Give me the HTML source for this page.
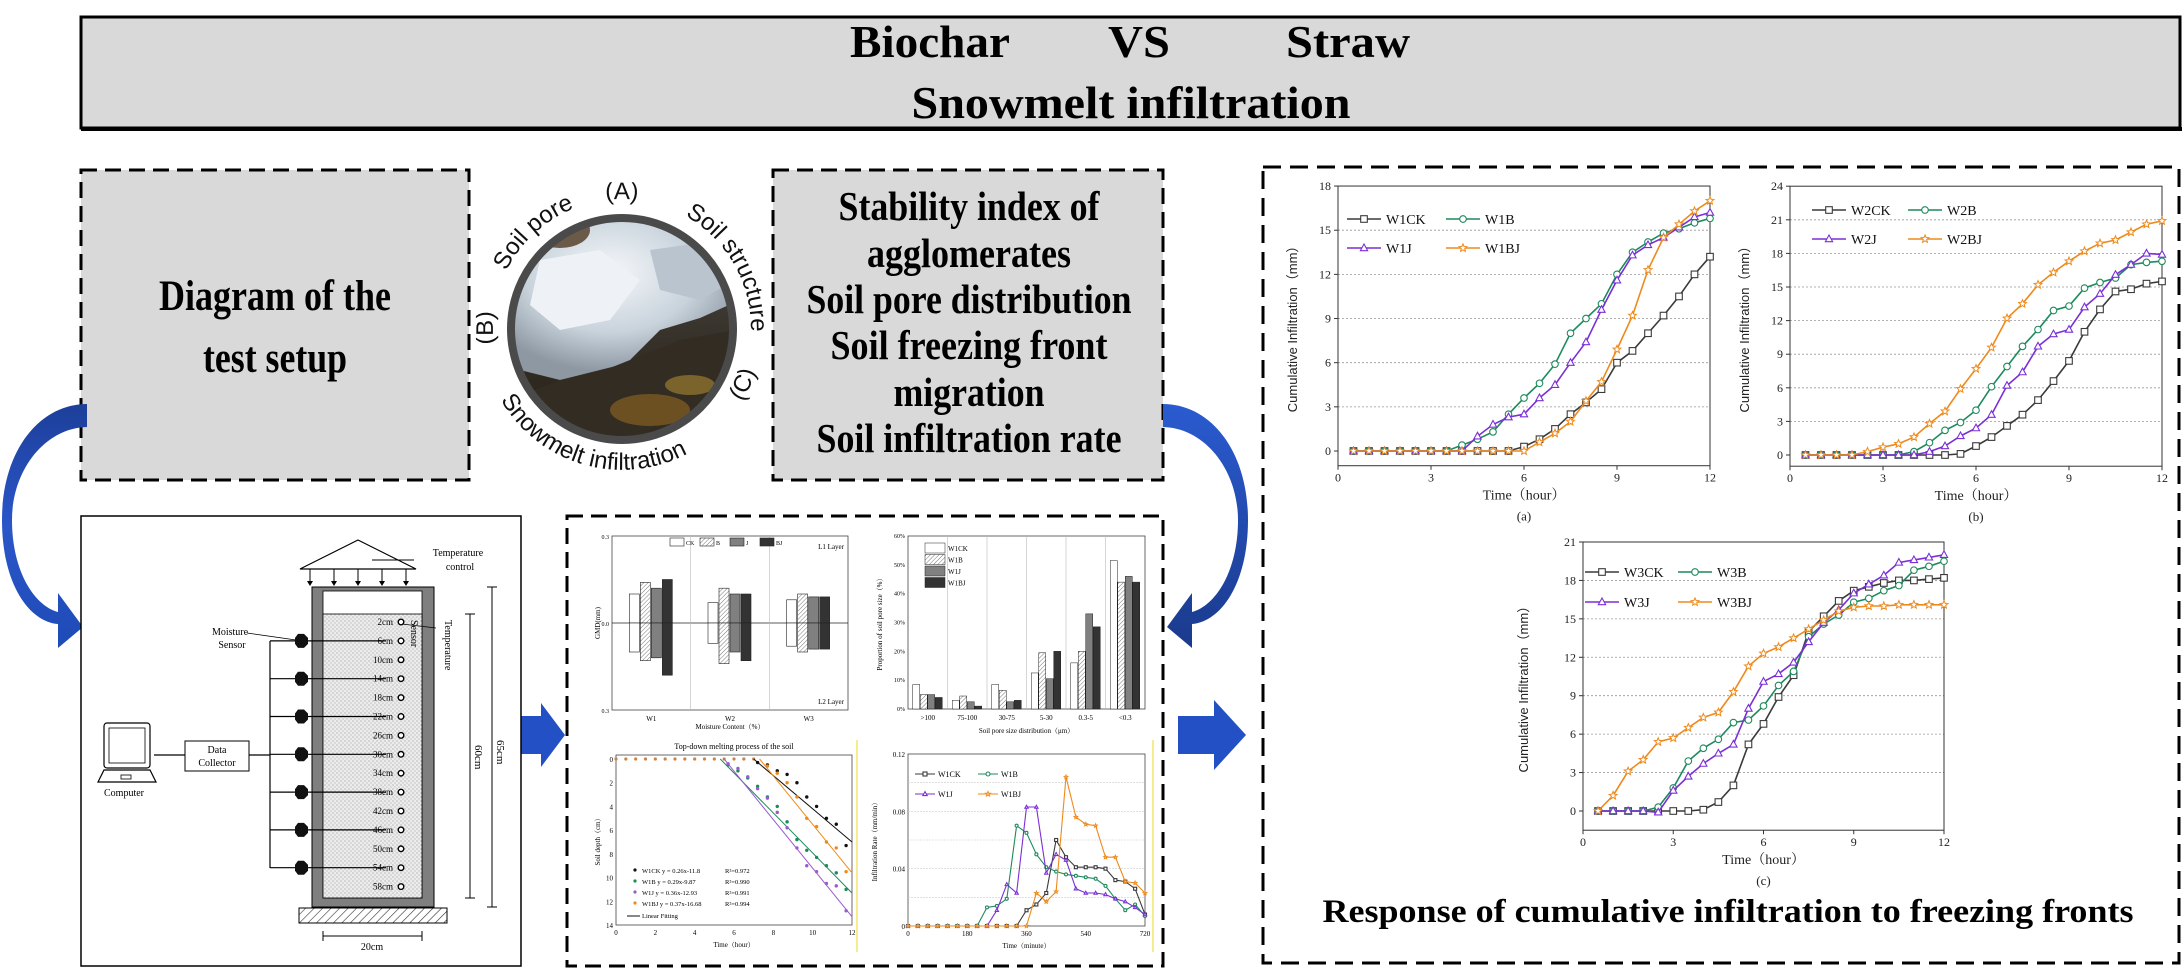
<!DOCTYPE html>
<html><head><meta charset="utf-8"><title>Biochar VS Straw - Snowmelt infiltration</title>
<style>
html,body{margin:0;padding:0;background:#fff;}
svg{display:block;}
.serif{font-family:"Liberation Serif","DejaVu Serif",serif;}
.sans{font-family:"Liberation Sans","DejaVu Sans",sans-serif;}
</style></head>
<body>
<svg id="root" xmlns="http://www.w3.org/2000/svg" width="2184" height="968" viewBox="0 0 2184 968">
<defs>
  <linearGradient id="blueGrad" x1="0" y1="0" x2="0" y2="1">
    <stop offset="0" stop-color="#1d3f9a"/><stop offset="0.5" stop-color="#2a56c8"/><stop offset="1" stop-color="#1f4bb8"/>
  </linearGradient>
  <linearGradient id="blueGradR" x1="0" y1="0" x2="0" y2="1">
    <stop offset="0" stop-color="#2a5bd0"/><stop offset="1" stop-color="#1a3a8c"/>
  </linearGradient>
  <pattern id="dots" width="4" height="4" patternUnits="userSpaceOnUse">
    <rect width="4" height="4" fill="#ececec"/><circle cx="1" cy="1" r="0.6" fill="#999"/><circle cx="3" cy="3" r="0.6" fill="#aaa"/>
  </pattern>
  <pattern id="hatch" width="6" height="6" patternUnits="userSpaceOnUse" patternTransform="rotate(45)">
    <rect width="6" height="6" fill="#fff"/><line x1="0" y1="0" x2="0" y2="6" stroke="#333" stroke-width="1.2"/>
  </pattern>
  <pattern id="hatchSmall" width="3" height="3" patternUnits="userSpaceOnUse" patternTransform="rotate(45)">
    <rect width="3" height="3" fill="#fff"/><line x1="0" y1="0" x2="0" y2="3" stroke="#555" stroke-width="0.8"/>
  </pattern>
  <clipPath id="photoClip"><circle cx="622" cy="329" r="108"/></clipPath>
  <radialGradient id="iceGrad" cx="0.45" cy="0.35" r="0.6">
    <stop offset="0" stop-color="#f4f7fa"/><stop offset="0.6" stop-color="#c9d3dc"/><stop offset="1" stop-color="#8d98a3"/>
  </radialGradient>
  <linearGradient id="groundGrad" x1="0" y1="0" x2="0" y2="1">
    <stop offset="0" stop-color="#4d4a45"/><stop offset="1" stop-color="#231c12"/>
  </linearGradient>
  <path id="arcTop" d="M 497.3 361.4 A 129 129 0 1 1 746.6 361.4" fill="none"/>
  <path id="arcBot" d="M 484.1 305.7 A 140 140 0 1 0 759.9 305.7" fill="none"/>
</defs>

<!-- Title banner -->
<g>
  <rect x="81" y="17" width="2099" height="111" fill="#d9d9d9" stroke="#000" stroke-width="3"/>
  <line x1="81" y1="129" x2="2182" y2="129" stroke="#000" stroke-width="4"/>
  <text class="serif" x="930" y="57" font-size="46" font-weight="bold" text-anchor="middle" textLength="160" lengthAdjust="spacingAndGlyphs">Biochar</text>
  <text class="serif" x="1139" y="57" font-size="46" font-weight="bold" text-anchor="middle" textLength="62" lengthAdjust="spacingAndGlyphs">VS</text>
  <text class="serif" x="1348" y="57" font-size="46" font-weight="bold" text-anchor="middle" textLength="124" lengthAdjust="spacingAndGlyphs">Straw</text>
  <text class="serif" x="1131" y="118" font-size="46" font-weight="bold" text-anchor="middle" textLength="439" lengthAdjust="spacingAndGlyphs">Snowmelt infiltration</text>
</g>

<!-- Left grey box -->
<g>
  <rect x="81" y="170" width="388" height="310" fill="#d9d9d9" stroke="#000" stroke-width="3" stroke-dasharray="16 8"/>
  <text class="serif" x="275" y="310" font-size="43" font-weight="bold" text-anchor="middle" textLength="232" lengthAdjust="spacingAndGlyphs">Diagram of the</text>
  <text class="serif" x="275" y="372" font-size="43" font-weight="bold" text-anchor="middle" textLength="144" lengthAdjust="spacingAndGlyphs">test setup</text>
</g>

<!-- Right grey box -->
<g>
  <rect x="773" y="170" width="390" height="310" fill="#d9d9d9" stroke="#000" stroke-width="3" stroke-dasharray="16 8"/>
  <text class="serif" x="969" y="220" font-size="41" font-weight="bold" text-anchor="middle" textLength="261" lengthAdjust="spacingAndGlyphs">Stability index of</text>
  <text class="serif" x="969" y="267" font-size="41" font-weight="bold" text-anchor="middle" textLength="204" lengthAdjust="spacingAndGlyphs">agglomerates</text>
  <text class="serif" x="969" y="313" font-size="41" font-weight="bold" text-anchor="middle" textLength="325" lengthAdjust="spacingAndGlyphs">Soil pore distribution</text>
  <text class="serif" x="969" y="359" font-size="41" font-weight="bold" text-anchor="middle" textLength="277" lengthAdjust="spacingAndGlyphs">Soil freezing front</text>
  <text class="serif" x="969" y="406" font-size="41" font-weight="bold" text-anchor="middle" textLength="151" lengthAdjust="spacingAndGlyphs">migration</text>
  <text class="serif" x="969" y="452" font-size="41" font-weight="bold" text-anchor="middle" textLength="305" lengthAdjust="spacingAndGlyphs">Soil infiltration rate</text>
</g>

<!-- Photo circle -->
<g>
  <g clip-path="url(#photoClip)">
    <rect x="510" y="218" width="225" height="225" fill="url(#groundGrad)"/>
    <polygon points="505,215 740,215 740,300 700,318 660,330 630,360 600,372 560,380 520,370 505,360" fill="url(#iceGrad)"/>
    <polygon points="540,260 600,250 640,280 610,320 560,330 530,305" fill="#eef2f6"/>
    <polygon points="650,250 720,240 735,280 700,300 660,290" fill="#b9c4cf"/>
    <polygon points="560,380 620,365 680,340 735,330 735,443 510,443 510,400" fill="#332c23"/>
    <ellipse cx="650" cy="410" rx="40" ry="16" fill="#7a5a22" opacity="0.8"/>
    <ellipse cx="690" cy="385" rx="25" ry="10" fill="#9a7a30" opacity="0.7"/>
    <ellipse cx="560" cy="230" rx="30" ry="18" fill="#6b5a48"/>
  </g>
  <circle cx="622" cy="329" r="111" fill="none" stroke="#4a4a4a" stroke-width="8"/>
  <text class="sans" font-size="24" fill="#111">
    <textPath href="#arcTop" startOffset="34" text-anchor="middle">(B)</textPath>
  </text>
  <text class="sans" font-size="24" fill="#111"><textPath href="#arcTop" startOffset="140" text-anchor="middle">Soil pore</textPath></text>
  <text class="sans" font-size="24" fill="#111"><textPath href="#arcTop" startOffset="236" text-anchor="middle">(A)</textPath></text>
  <text class="sans" font-size="24" fill="#111"><textPath href="#arcTop" startOffset="372" text-anchor="middle">Soil structure</textPath></text>
  <text class="sans" font-size="24" fill="#111"><textPath href="#arcBot" startOffset="205" text-anchor="middle">Snowmelt infiltration</textPath></text>
  <text class="sans" font-size="24" fill="#111"><textPath href="#arcBot" startOffset="405" text-anchor="middle">(C)</textPath></text>
</g>

<!-- Curved arrows -->
<path d="M87,404 C40,404 2,450 2,520 C2,585 30,622 58,624 L58,648 L83,627 L58,593 L58,612 C35,606 12,572 12,520 C12,470 45,428 87,427 Z" fill="url(#blueGrad)"/>
<path d="M1163,404 C1210,404 1248,450 1248,520 C1248,585 1220,622 1192,624 L1192,648 L1167,627 L1192,593 L1192,612 C1215,606 1238,572 1238,520 C1238,470 1205,428 1163,427 Z" fill="url(#blueGradR)"/>
<!-- Straight arrows -->
<polygon points="518,716 541,716 541,703 565,735 541,767 541,754 518,754" fill="#2350c4"/>
<polygon points="1178,716 1214,716 1214,700 1246,735 1214,770 1214,754 1178,754" fill="#2350c4"/>

<!-- Test setup diagram -->
<g class="serif" font-size="10">
  <rect x="81" y="516" width="440" height="450" fill="#fff" stroke="#000" stroke-width="1.5"/>
  <polygon points="358,540 300,569 416,569" fill="none" stroke="#000" stroke-width="1.2"/>
  <g stroke="#000" stroke-width="1">
    <line x1="310" y1="569" x2="310" y2="583"/><line x1="334" y1="569" x2="334" y2="583"/>
    <line x1="358" y1="569" x2="358" y2="583"/><line x1="382" y1="569" x2="382" y2="583"/><line x1="406" y1="569" x2="406" y2="583"/>
    <line x1="372" y1="560" x2="414" y2="560"/>
  </g>
  <g fill="#000">
    <polygon points="307,581 313,581 310,586"/><polygon points="331,581 337,581 334,586"/><polygon points="355,581 361,581 358,586"/><polygon points="379,581 385,581 382,586"/><polygon points="403,581 409,581 406,586"/>
  </g>
  <text x="458" y="556" text-anchor="middle" font-size="10">Temperature</text>
  <text x="460" y="570" text-anchor="middle" font-size="10">control</text>
  <rect x="312" y="587" width="122" height="320" fill="#7f7f7f" stroke="#000" stroke-width="1"/>
  <rect x="323" y="591" width="99" height="307" fill="#fff" stroke="#000" stroke-width="0.8"/>
  <rect x="323" y="614" width="99" height="284" fill="url(#dots)" stroke="#000" stroke-width="0.8"/>
  <rect x="299" y="908" width="148" height="15" fill="url(#hatch)" stroke="#000" stroke-width="1"/>
  <g id="depthLabels"></g>
  <text x="445" y="620" font-size="10" transform="rotate(90 445 620)">Temperature</text>
  <text x="433" y="620" font-size="10" transform="rotate(90 433 620)" dx="0" dy="22">Sensor</text>
  <line x1="402" y1="624" x2="436" y2="628" stroke="#000" stroke-width="0.8"/>
  <text x="230" y="635" text-anchor="middle">Moisture</text>
  <text x="232" y="648" text-anchor="middle">Sensor</text>
  <line x1="247" y1="633" x2="296" y2="640" stroke="#000" stroke-width="0.8"/>
  <line x1="270" y1="641" x2="270" y2="868" stroke="#000" stroke-width="1.2"/>
  <g id="sensors"></g>
  <rect x="185" y="741" width="64" height="30" fill="#fff" stroke="#000" stroke-width="1"/>
  <text x="217" y="753" text-anchor="middle">Data</text>
  <text x="217" y="766" text-anchor="middle">Collector</text>
  <line x1="249" y1="755" x2="270" y2="755" stroke="#000" stroke-width="1.2"/>
  <line x1="154" y1="755" x2="185" y2="755" stroke="#000" stroke-width="1.2"/>
  <g>
    <rect x="104" y="723" width="46" height="45" rx="3" fill="#fff" stroke="#000" stroke-width="1.2"/>
    <rect x="109" y="728" width="36" height="35" fill="#fff" stroke="#000" stroke-width="0.8"/>
    <polygon points="104,770 150,770 156,782 98,782" fill="#fff" stroke="#000" stroke-width="1.2"/>
    <rect x="121" y="775" width="10" height="4" fill="none" stroke="#000" stroke-width="0.8"/>
  </g>
  <text x="124" y="796" text-anchor="middle">Computer</text>
  <g stroke="#000" stroke-width="1">
    <line x1="492" y1="587" x2="492" y2="907"/><line x1="487" y1="587" x2="497" y2="587"/><line x1="487" y1="907" x2="497" y2="907"/>
    <line x1="470" y1="614" x2="470" y2="898"/><line x1="465" y1="614" x2="475" y2="614"/><line x1="465" y1="898" x2="475" y2="898"/>
    <line x1="323" y1="936" x2="422" y2="936"/><line x1="323" y1="931" x2="323" y2="941"/><line x1="422" y1="931" x2="422" y2="941"/>
  </g>
  <text x="497" y="740" font-size="11" transform="rotate(90 497 740)">65cm</text>
  <text x="475" y="745" font-size="11" transform="rotate(90 475 745)">60cm</text>
  <text x="372" y="950" text-anchor="middle">20cm</text>
</g>

<!-- Middle dashed box with small charts -->
<rect x="567" y="516" width="596" height="450" fill="#fff" stroke="#000" stroke-width="3" stroke-dasharray="16 8"/>
<g id="miniCharts" class="serif"></g>

<!-- Charts dashed box -->
<rect x="1263" y="167" width="916" height="796" fill="#fff" stroke="#000" stroke-width="3" stroke-dasharray="18 9"/>
<g id="bigCharts"></g>
<text class="serif" x="1728" y="922" font-size="33" font-weight="bold" text-anchor="middle" textLength="811" lengthAdjust="spacingAndGlyphs">Response of cumulative infiltration to freezing fronts</text>
</svg>

<script>
// ===== Cumulative infiltration data (mm), hours =====
const hours = [0.5,1,1.5,2,2.5,3,3.5,4,4.5,5,5.5,6,6.5,7,7.5,8,8.5,9,9.5,10,10.5,11,11.5,12];
const w1CK = [0,0,0,0,0,0,0,0,0,0,0,0.3,0.8,1.5,2.5,3.3,4.2,6.0,6.8,8.0,9.2,10.5,12.0,13.2];
const w1B  = [0,0,0,0,0,0,0,0.4,0.8,1.3,2.5,3.6,4.6,5.9,8.0,9.0,10.0,12.0,13.5,14.2,14.8,15.1,15.5,15.8];
const w1J  = [0,0,0,0,0,0,0,0,1.0,1.8,2.3,2.5,3.6,4.5,6.0,7.4,9.6,11.6,13.3,14.0,14.5,15.2,15.9,16.2];
const w1BJ = [0,0,0,0,0,0,0,0,0,0,0,0,0.6,1.2,2.0,3.4,4.7,6.9,9.2,12.3,14.5,15.4,16.3,17.0];
const w2CK = [0,0,0,0,0,0,0,0,0,0,0.1,0.8,1.6,2.6,3.6,4.9,6.6,8.4,11.0,13.0,14.6,14.8,15.3,15.5];
const w2B  = [0,0,0,0,0,0,0,0.3,1.1,2.2,2.9,4.0,6.1,7.9,9.7,11.2,12.9,13.3,14.9,15.4,15.8,17.0,17.2,17.3];
const w2J  = [0,0,0,0,0,0,0,0,0.3,0.8,1.7,2.4,3.6,6.2,7.4,9.7,10.8,11.2,13.2,14.4,16.1,17.0,18.0,17.9];
const w2BJ = [0,0,0,0,0.3,0.7,1.0,1.6,2.8,3.9,5.9,7.7,9.6,12.2,13.5,15.2,16.3,17.3,18.2,18.9,19.2,19.9,20.6,20.9];
const w3CK = [0,0,0,0,0,0,0,0.1,0.7,2.0,5.2,6.8,8.9,10.6,14.0,15.2,16.4,17.2,17.5,17.8,18.0,18.0,18.1,18.2];
const w3B  = [0,0,0,0,0.3,1.8,3.9,4.9,5.6,6.9,7.1,8.2,9.8,10.9,13.6,14.6,15.3,16.3,16.6,17.2,17.6,18.8,19.1,19.5];
const w3J  = [0,0,0,0,-0.1,1.6,2.7,3.7,4.5,5.2,8.0,10.1,10.7,11.6,13.2,14.7,15.7,17.0,17.7,18.4,19.4,19.6,19.8,20.0];
const w3BJ = [0,1.2,3.1,4.0,5.4,5.7,6.5,7.3,7.7,9.3,11.3,12.3,12.8,13.5,14.2,14.9,15.6,15.9,16.0,16.0,16.1,16.1,16.1,16.1];
const hourTicks = [0,3,6,9,12];
const yTicksA = [0,3,6,9,12,15,18];
const yTicksB = [0,3,6,9,12,15,18,21,24];
const yTicksC = [0,3,6,9,12,15,18,21];

// ===== Mini chart data =====
const gmdGroups = ["W1","W2","W3"];
const gmdTreat = ["CK","B","J","BJ"];
const gmdL1 = [[0.10,0.14,0.12,0.15],[0.07,0.12,0.10,0.10],[0.08,0.10,0.09,0.09]];
const gmdL2 = [[-0.10,-0.13,-0.12,-0.18],[-0.07,-0.14,-0.10,-0.13],[-0.08,-0.10,-0.09,-0.09]];
const poreCats = [">100","75-100","30-75","5-30","0.3-5","<0.3"];
const poreCK = [8.5,3,8.5,12.5,16,51.5];
const poreB  = [5,4.5,6.5,19.5,20,44];
const poreJ  = [5,2.5,2.5,10.5,33,46];
const poreBJ = [4,1,3,20,28.5,44];
const poreTicks = [0,10,20,30,40,50,60];
const meltFlatT = [0,0.5,1,1.5,2,2.5,3,3.5,4,4.5,5,5.5,6,6.5,7];
const meltCKt = [7.2,7.7,8.2,8.7,9.2,9.7,10.2,10.7,11.2,11.7];
const meltCKd = [0.3,0.5,1,1.3,2,3.2,4,5,5.5,7.3];
const meltBt = [5.7,6.2,6.7,7.2,7.7,8.2,8.7,9.2,9.7,10.2,10.7,11.2,11.7];
const meltBd = [0.5,1,1.6,2.3,3.2,4,5.3,6.8,7.7,8.3,9,9.6,11];
const meltJt = [5.7,6.2,6.7,7.2,7.7,8.2,8.7,9.2,9.7,10.2,10.7,11.2,11.7];
const meltJd = [0.4,0.8,1.5,2.5,3.3,4.5,5.8,7.5,9,9.5,10.5,10.7,12.8];
const meltBJt = [7.7,8.2,8.7,9.2,9.7,10.2,10.7,11.2,11.7];
const meltBJd = [0.6,1.2,2,3.2,5,5.7,7,7.5,9.5];
const fitStartT = [7.0,5.3,5.5,7.3];
const fitEndD = [7.0,11.3,13.3,9.6];
const meltTicksX = [0,2,4,6,8,10,12];
const meltTicksY = [0,2,4,6,8,10,12,14];
const rateT = [0,30,60,90,120,150,180,210,240,270,300,330,360,390,420,450,480,510,540,570,600,630,660,690,720];
const rateCK = [0,0,0,0,0,0,0,0,0,0,0,0,0.011,0.015,0.023,0.060,0.048,0.041,0.041,0.041,0.040,0.032,0.031,0.026,0.008];
const rateB  = [0,0,0,0,0,0,0,0,0.013,0.014,0.019,0.070,0.065,0.050,0.041,0.038,0.036,0.035,0.034,0.033,0.028,0.019,0.011,0.015,0.007];
const rateJ  = [0,0,0,0,0,0,0,0,0,0.011,0.029,0.023,0.083,0.083,0.037,0.050,0.046,0.026,0.023,0.023,0.022,0.019,0.017,0.013,0.008];
const rateBJ = [0,0,0,0,0,0,0,0,0,0,0,0,0,0.023,0.017,0.024,0.104,0.076,0.071,0.070,0.048,0.048,0.031,0.030,0.023];
const rateTicksX = [0,180,360,540,720];
const rateTicksY = [0,0.04,0.08,0.12];

const depthNames = ["2cm","6cm","10cm","14cm","18cm","22cm","26cm","30cm","34cm","38cm","42cm","46cm","50cm","54cm","58cm"];

const NS = "http://www.w3.org/2000/svg";
function mk(tag, attrs, parent){
  const e = document.createElementNS(NS, tag);
  for (const k in attrs) e.setAttribute(k, attrs[k]);
  if (parent) parent.appendChild(e);
  return e;
}
function txt(str, attrs, parent){ const t = mk("text", attrs, parent); t.textContent = str; return t; }

const COL = {CK:"#3a3a3a", B:"#1d8a5c", J:"#7b2fd6", BJ:"#ee8a1c"};

// ----- depth labels & sensors -----
(function(){
  const gl = document.getElementById("depthLabels");
  depthNames.forEach(function(n, i){
    const y = 622 + i * 18.9;
    const t = txt(n, {x:393, y:y+3, "text-anchor":"end", "font-size":"9"}, gl);
    
    
    const c = mk("circle", {cx:401, cy:y, r:2.8, fill:"#fff", stroke:"#000", "stroke-width":1.4}, gl);
    
    
  });
  const gs = document.getElementById("sensors");
  [1,3,5,7,9,11,13].forEach(function(i){
    const y = 622 + i * 18.9;
    mk("line", {x1:270, y1:y, x2:295, y2:y, stroke:"#000", "stroke-width":1.2}, gs);
    mk("line", {x1:307, y1:y, x2:386, y2:y, stroke:"#000", "stroke-width":1.2}, gs);
    const s = mk("polygon", {points:(295)+","+(y-3)+" "+(298)+","+(y-7)+" "+(304)+","+(y-7)+" "+(308)+","+(y-3)+" "+(308)+","+(y+3)+" "+(304)+","+(y+7)+" "+(298)+","+(y+7)+" "+(295)+","+(y+3), fill:"#111"}, gs);
    
    
  });
})();

// ----- markers -----
function marker(type, x, y, color, s, parent){
  let e;
  if (type === "CK") e = mk("rect", {x:x-s, y:y-s, width:2*s, height:2*s, fill:"#fff", stroke:color, "stroke-width":1.1}, parent);
  else if (type === "B") e = mk("circle", {cx:x, cy:y, r:s, fill:"#fff", stroke:color, "stroke-width":1.1}, parent);
  else if (type === "J") e = mk("polygon", {points:x+","+(y-s*1.2)+" "+(x+s*1.1)+","+(y+s*0.8)+" "+(x-s*1.1)+","+(y+s*0.8), fill:"#fff", stroke:color, "stroke-width":1.1}, parent);
  else {
    let p = [];
    for (let k=0;k<10;k++){ const a = -Math.PI/2 + k*Math.PI/5; const r = k%2===0 ? s*1.25 : s*0.55; p.push((x+r*Math.cos(a)).toFixed(1)+","+(y+r*Math.sin(a)).toFixed(1)); }
    e = mk("polygon", {points:p.join(" "), fill:"#fff", stroke:color, "stroke-width":1}, parent);
  }
  return e;
}

// ----- cumulative infiltration chart -----
function cumChart(cfg){
  const root = document.getElementById("bigCharts");
  const g = mk("g", {class:"serif"}, root);
  
  
  const X = v => cfg.x0 + (v - 0) / 12 * (cfg.x1 - cfg.x0);
  const Y = v => cfg.yZero - v * cfg.unit;
  const yBot = Y(cfg.ymin), yTop = Y(cfg.ymax);
  cfg.yTicks.forEach(function(t){
    if (t > 0 && t < cfg.ymax) {
      const gl = mk("line", {x1:cfg.x0, y1:Y(t), x2:cfg.x1, y2:Y(t), stroke:"#999", "stroke-width":0.8, "stroke-dasharray":"2 2"}, g);
      
      
    }
    mk("line", {x1:cfg.x0-4, y1:Y(t), x2:cfg.x0, y2:Y(t), stroke:"#333"}, g);
    const tl = txt(String(t), {x:cfg.x0-7, y:Y(t)+4, "text-anchor":"end", "font-size":"12", fill:"#222"}, g);
    
    
  });
  const frame = mk("rect", {x:cfg.x0, y:yTop, width:cfg.x1-cfg.x0, height:yBot-yTop, fill:"none", stroke:"#333", "stroke-width":1}, g);
  
  
  hourTicks.forEach(function(t){
    mk("line", {x1:X(t), y1:yBot, x2:X(t), y2:yBot+4, stroke:"#333"}, g);
    const xl = txt(String(t), {x:X(t), y:yBot+16, "text-anchor":"middle", "font-size":"12", fill:"#222"}, g);
    
    
  });
  const xt = txt("Time\uFF08hour\uFF09", {x:(cfg.x0+cfg.x1)/2, y:yBot+34, "text-anchor":"middle", "font-size":"14", fill:"#222", style:"font-family:'Liberation Serif','Noto Serif CJK SC',serif"}, g);
  
  
  const pl = txt(cfg.panel, {x:(cfg.x0+cfg.x1)/2, y:yBot+55, "text-anchor":"middle", "font-size":"13", fill:"#222"}, g);
  
  
  const yc = (yTop+yBot)/2;
  const yt = txt("Cumulative Infiltration\uFF08mm\uFF09", {x:cfg.ylabX, y:yc, "text-anchor":"middle", "font-size":"13", fill:"#222", transform:"rotate(-90 "+cfg.ylabX+" "+yc+")", style:"font-family:'Liberation Sans','Noto Sans CJK SC',sans-serif"}, g);
  
  
  cfg.series.forEach(function(s){
    const sg = mk("g", {}, g);
    
    
    const pts = s.vals.map((v,i) => X(hours[i]).toFixed(1)+","+Y(v).toFixed(1)).join(" ");
    const line = mk("polyline", {points:pts, fill:"none", stroke:COL[s.type], "stroke-width":1.6}, sg);
    
    
    s.vals.forEach(function(v,i){
      const m = marker(s.type, X(hours[i]), Y(v), COL[s.type], 3.3, sg);
      
      
    });
  });
  cfg.series.forEach(function(s, i){
    const lx = i % 2 === 0 ? cfg.leg[0] : cfg.leg[1];
    const ly = i < 2 ? cfg.leg[2] : cfg.leg[3];
    const lg = mk("g", {}, g);
    
    
    mk("line", {x1:lx, y1:ly, x2:lx+34, y2:ly, stroke:COL[s.type], "stroke-width":1.6}, lg);
    marker(s.type, lx+17, ly, COL[s.type], 3.3, lg);
    txt(s.label, {x:lx+39, y:ly+5, "font-size":"14", fill:"#111"}, lg);
  });
}

cumChart({name:"chart-a-w1", panel:"(a)", x0:1338, x1:1710, yZero:451, unit:14.72, ymin:-1, ymax:18, yTicks:yTicksA, ylabX:1297, leg:[1347,1446,219,248],
  series:[{vals:w1CK,type:"CK",label:"W1CK"},{vals:w1B,type:"B",label:"W1B"},{vals:w1J,type:"J",label:"W1J"},{vals:w1BJ,type:"BJ",label:"W1BJ"}]});
cumChart({name:"chart-b-w2", panel:"(b)", x0:1790, x1:2162, yZero:455, unit:11.2, ymin:-1, ymax:24, yTicks:yTicksB, ylabX:1749, leg:[1812,1908,210,239],
  series:[{vals:w2CK,type:"CK",label:"W2CK"},{vals:w2B,type:"B",label:"W2B"},{vals:w2J,type:"J",label:"W2J"},{vals:w2BJ,type:"BJ",label:"W2BJ"}]});
cumChart({name:"chart-c-w3", panel:"(c)", x0:1583, x1:1944, yZero:811, unit:12.81, ymin:-1.5, ymax:21, yTicks:yTicksC, ylabX:1528, leg:[1585,1678,572,602],
  series:[{vals:w3CK,type:"CK",label:"W3CK"},{vals:w3B,type:"B",label:"W3B"},{vals:w3J,type:"J",label:"W3J"},{vals:w3BJ,type:"BJ",label:"W3BJ"}]});

// ===== Mini charts =====
const mini = document.getElementById("miniCharts");
const barFill = {CK:"#fff", B:"url(#hatchSmall)", J:"#808080", BJ:"#333"};

// GMD chart
(function(){
  const g = mk("g", {}, mini);
  
  
  const x0=612, x1=848, yT=536, yB=710;
  const Y = v => (yT+yB)/2 - v/0.3*((yB-yT)/2);
  const gw = (x1-x0)/3;
  mk("rect", {x:x0, y:yT, width:x1-x0, height:yB-yT, fill:"none", stroke:"#444", "stroke-width":0.8}, g);
  mk("line", {x1:x0, y1:Y(0), x2:x1, y2:Y(0), stroke:"#222", "stroke-width":0.8}, g);
  [1,2].forEach(k => mk("line", {x1:x0+k*gw, y1:yT, x2:x0+k*gw, y2:yB, stroke:"#bbb", "stroke-width":0.6}, g));
  txt("0.3", {x:x0-3, y:yT+3, "text-anchor":"end", "font-size":"6"}, g);
  txt("0.0", {x:x0-3, y:Y(0)+3, "text-anchor":"end", "font-size":"6"}, g);
  txt("0.3", {x:x0-3, y:yB+3, "text-anchor":"end", "font-size":"6"}, g);
  txt("GMD(mm)", {x:600, y:Y(0), "text-anchor":"middle", "font-size":"7", transform:"rotate(-90 600 "+Y(0)+")"}, g);
  txt("L1 Layer", {x:x1-4, y:yT+13, "text-anchor":"end", "font-size":"7"}, g);
  txt("L2 Layer", {x:x1-4, y:yB-6, "text-anchor":"end", "font-size":"7"}, g);
  gmdGroups.forEach(function(name, gi){
    const cx = x0 + gw*(gi+0.5);
    txt(name, {x:cx, y:yB+11, "text-anchor":"middle", "font-size":"7"}, g);
    gmdTreat.forEach(function(t, ti){
      const bx = cx - 22 + ti*11;
      const top = gmdL1[gi][ti], bot = gmdL2[gi][ti];
      const b1 = mk("rect", {x:bx, y:Y(top), width:10, height:Y(0)-Y(top), fill:barFill[t], stroke:"#222", "stroke-width":0.6}, g);
      
      
      const b2 = mk("rect", {x:bx, y:Y(0), width:10, height:Y(bot)-Y(0), fill:barFill[t], stroke:"#222", "stroke-width":0.6}, g);
      
      
    });
  });
  txt("Moisture Content\uFF08%\uFF09", {x:(x0+x1)/2, y:yB+19, "text-anchor":"middle", "font-size":"7", style:"font-family:'Liberation Serif','Noto Serif CJK SC',serif"}, g);
  gmdTreat.forEach(function(t, i){
    const lx = 670 + i*30;
    mk("rect", {x:lx, y:538, width:14, height:8, fill:barFill[t], stroke:"#222", "stroke-width":0.6}, g);
    txt(t, {x:lx+16, y:545, "font-size":"6"}, g);
  });
})();

// Pore chart
(function(){
  const g = mk("g", {}, mini);
  
  
  const x0=908, x1=1145, yT=536, yB=709;
  const Y = v => yB - v/60*(yB-yT);
  const cw = (x1-x0)/poreCats.length;
  mk("rect", {x:x0, y:yT, width:x1-x0, height:yB-yT, fill:"none", stroke:"#444", "stroke-width":0.8}, g);
  for (let k=1;k<poreCats.length;k++) mk("line", {x1:x0+k*cw, y1:yT, x2:x0+k*cw, y2:yB, stroke:"#bbb", "stroke-width":0.6}, g);
  poreTicks.forEach(t => txt(t+"%", {x:x0-3, y:Y(t)+2, "text-anchor":"end", "font-size":"6"}, g));
  txt("Proportion of soil pore size\uFF08%\uFF09", {x:882, y:(yT+yB)/2, "text-anchor":"middle", "font-size":"7", transform:"rotate(-90 882 "+((yT+yB)/2)+")", style:"font-family:'Liberation Serif','Noto Serif CJK SC',serif"}, g);
  const series = [["CK",poreCK],["B",poreB],["J",poreJ],["BJ",poreBJ]];
  poreCats.forEach(function(c, ci){
    const cx = x0 + cw*(ci+0.5);
    txt(c, {x:cx, y:yB+11, "text-anchor":"middle", "font-size":"7"}, g);
    series.forEach(function(s, si){
      const v = s[1][ci];
      const b = mk("rect", {x:cx-15+si*7.5, y:Y(v), width:7, height:yB-Y(v), fill:barFill[s[0]], stroke:"#222", "stroke-width":0.5}, g);
      
      
    });
  });
  txt("Soil pore size distribution\uFF08\u03BCm\uFF09", {x:(x0+x1)/2, y:yB+24, "text-anchor":"middle", "font-size":"7", style:"font-family:'Liberation Serif','Noto Serif CJK SC',serif"}, g);
  ["W1CK","W1B","W1J","W1BJ"].forEach(function(n, i){
    mk("rect", {x:925, y:543+i*11.5, width:20, height:10, fill:barFill[series[i][0]], stroke:"#222", "stroke-width":0.5}, g);
    txt(n, {x:948, y:551+i*11.5, "font-size":"7"}, g);
  });
})();

// Melting chart
(function(){
  const g = mk("g", {}, mini);
  
  
  const x0=616, x1=852, yT=755, yB=925;
  const X = v => x0 + v/12*(x1-x0);
  const Y = v => yT + 4 + v/14*(yB-yT-4);
  txt("Top-down melting process of the soil", {x:(x0+x1)/2, y:749, "text-anchor":"middle", "font-size":"8"}, g);
  mk("rect", {x:x0, y:yT, width:x1-x0, height:yB-yT, fill:"none", stroke:"#444", "stroke-width":0.8}, g);
  mk("line", {x1:857, y1:740, x2:857, y2:952, stroke:"#f0e040", "stroke-width":1.2}, g);
  meltTicksX.forEach(t => txt(String(t), {x:X(t), y:yB+10, "text-anchor":"middle", "font-size":"7"}, g));
  meltTicksY.forEach(t => txt(String(t), {x:x0-3, y:Y(t)+3, "text-anchor":"end", "font-size":"7"}, g));
  txt("Time\uFF08hour\uFF09", {x:(x0+x1)/2, y:yB+22, "text-anchor":"middle", "font-size":"7", style:"font-family:'Liberation Serif','Noto Serif CJK SC',serif"}, g);
  txt("Soil depth\uFF08cm\uFF09", {x:600, y:(yT+yB)/2, "text-anchor":"middle", "font-size":"7", transform:"rotate(-90 600 "+((yT+yB)/2)+")", style:"font-family:'Liberation Serif','Noto Serif CJK SC',serif"}, g);
  meltFlatT.forEach(function(t){
    const d = mk("circle", {cx:X(t), cy:Y(0), r:1.6, fill:"#c8854a"}, g);
    
    
  });
  const sets = [[meltCKt,meltCKd,"#111"],[meltBt,meltBd,"#1d8a5c"],[meltJt,meltJd,"#9a5bd0"],[meltBJt,meltBJd,"#ee8a1c"]];
  sets.forEach(function(s, si){
    const fl = mk("line", {x1:X(fitStartT[si]), y1:Y(0), x2:X(12), y2:Y(fitEndD[si]), stroke:s[2], "stroke-width":1}, g);
    
    
    s[0].forEach(function(t, i){
      const p = mk("circle", {cx:X(t), cy:Y(s[1][i]), r:1.7, fill:s[2]}, g);
      
      
    });
  });
  const eq = [["W1CK  y = 0.26x-11.8","R\u00B2=0.972","#111"],["W1B    y = 0.29x-9.87","R\u00B2=0.990","#1d8a5c"],["W1J    y = 0.36x-12.93","R\u00B2=0.991","#9a5bd0"],["W1BJ  y = 0.37x-16.68","R\u00B2=0.994","#ee8a1c"]];
  eq.forEach(function(e, i){
    const y = 872 + i*11;
    mk("circle", {cx:635, cy:y-2, r:1.6, fill:e[2]}, g);
    txt(e[0], {x:642, y:y+1, "font-size":"6.5"}, g);
    txt(e[1], {x:725, y:y+1, "font-size":"6.5"}, g);
  });
  mk("line", {x1:627, y1:916, x2:640, y2:916, stroke:"#111", "stroke-width":1}, g);
  txt("Linear Fitting", {x:642, y:918, "font-size":"6.5"}, g);
})();

// Rate chart
(function(){
  const g = mk("g", {}, mini);
  
  
  const x0=908, x1=1145, yT=754, yB=926;
  const X = v => x0 + v/720*(x1-x0);
  const Y = v => yB - v/0.12*(yB-yT);
  mk("rect", {x:x0, y:yT, width:x1-x0, height:yB-yT, fill:"none", stroke:"#444", "stroke-width":0.8}, g);
  mk("line", {x1:1153, y1:740, x2:1153, y2:952, stroke:"#f0e040", "stroke-width":1.2}, g);
  [0.02,0.04,0.06,0.08,0.10].forEach(t => mk("line", {x1:x0, y1:Y(t), x2:x1, y2:Y(t), stroke:"#ccc", "stroke-width":0.6, "stroke-dasharray":"2 1"}, g));
  rateTicksX.forEach(t => txt(String(t), {x:X(t), y:yB+10, "text-anchor":"middle", "font-size":"7"}, g));
  rateTicksY.forEach(t => txt(t===0?"0":String(t), {x:x0-3, y:Y(t)+3, "text-anchor":"end", "font-size":"7"}, g));
  txt("Time\uFF08minute\uFF09", {x:(x0+x1)/2, y:yB+22, "text-anchor":"middle", "font-size":"7", style:"font-family:'Liberation Serif','Noto Serif CJK SC',serif"}, g);
  txt("Infiltration Rate\uFF08mm/min\uFF09", {x:877, y:(yT+yB)/2, "text-anchor":"middle", "font-size":"7", transform:"rotate(-90 877 "+((yT+yB)/2)+")", style:"font-family:'Liberation Serif','Noto Serif CJK SC',serif"}, g);
  const sets = [["CK",rateCK,"W1CK"],["B",rateB,"W1B"],["J",rateJ,"W1J"],["BJ",rateBJ,"W1BJ"]];
  sets.forEach(function(s){
    const pts = s[1].map((v,i)=>X(rateT[i]).toFixed(1)+","+Y(v).toFixed(1)).join(" ");
    const l = mk("polyline", {points:pts, fill:"none", stroke:COL[s[0]], "stroke-width":1.1}, g);
    
    
    s[1].forEach(function(v,i){ marker(s[0], X(rateT[i]), Y(v), COL[s[0]], 1.5, g); });
  });
  sets.forEach(function(s, i){
    const lx = i%2===0 ? 915 : 978, ly = i<2 ? 774 : 794;
    mk("line", {x1:lx, y1:ly, x2:lx+20, y2:ly, stroke:COL[s[0]], "stroke-width":1.1}, g);
    marker(s[0], lx+10, ly, COL[s[0]], 2, g);
    txt(s[2], {x:lx+23, y:ly+3, "font-size":"8"}, g);
  });
})();
</script>
</body></html>
